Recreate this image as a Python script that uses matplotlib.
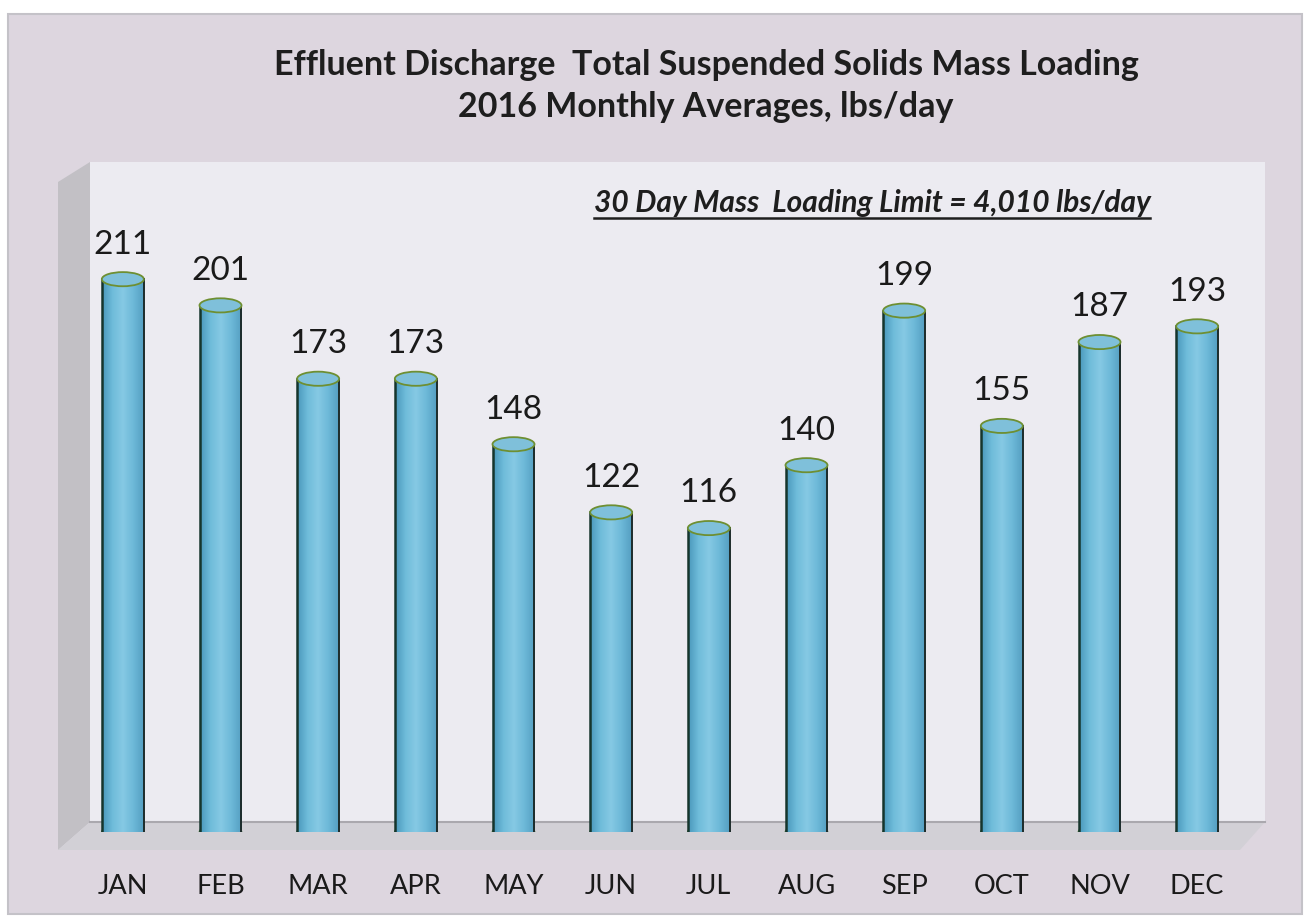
import numpy as np
import matplotlib.pyplot as plt
from matplotlib.patches import Ellipse, Polygon, Rectangle
from matplotlib.colors import LinearSegmentedColormap

# monthly averages, lbs/day
months = ['JAN', 'FEB', 'MAR', 'APR', 'MAY', 'JUN', 'JUL', 'AUG', 'SEP', 'OCT', 'NOV', 'DEC']
tss_lbs = [211, 201, 173, 173, 148, 122, 116, 140, 199, 155, 187, 193]

title = 'Effluent Discharge  Total Suspended Solids Mass Loading\n2016 Monthly Averages, lbs/day'
note = '30 Day Mass  Loading Limit = 4,010 lbs/day'

plt.rcParams['font.family'] = ['Lato', 'DejaVu Sans']

W, H = 1307, 921
fig = plt.figure(figsize=(W / 100, H / 100), dpi=100)
fig.patch.set_facecolor('white')

# background "3d box" drawn in pixel coords
bg = fig.add_axes([0, 0, 1, 1], zorder=0)
bg.set_xlim(0, W)
bg.set_ylim(H, 0)
bg.axis('off')
bg.add_patch(Rectangle((8, 14), 1294, 900, facecolor='#ddd6df', edgecolor='#c4c2c8', lw=1.5))
bg.add_patch(Polygon([(58, 182), (90, 162), (90, 822), (58, 850)], facecolor='#c2c0c5', edgecolor='none'))
bg.add_patch(Rectangle((90, 162), 1175, 660, facecolor='#ecebf1', edgecolor='none'))
bg.add_patch(Polygon([(90, 822), (1265, 822), (1240, 850), (58, 850)], facecolor='#d2d0d6', edgecolor='none'))
bg.plot([90, 1265], [822, 822], color='#aaa8ae', lw=1.5)

# main axes, zero at y=832 px, 2.62 px per lb/day
x0, x1 = 74, 1246
y_bot, y_top = 832, 832 - 250 * 2.62
ax = fig.add_axes([x0 / W, 1 - y_bot / H, (x1 - x0) / W, (y_bot - y_top) / H], zorder=1)
ax.set_xlim(-0.5, 11.5)
ax.set_ylim(0, 250)
ax.patch.set_alpha(0)
for s in ax.spines.values():
    s.set_visible(False)
ax.set_yticks([])
ax.set_xticks(range(len(months)))
ax.set_xticklabels(months, fontsize=19.5, color='#1a1a1a')
ax.tick_params(axis='x', length=0, pad=30)

cyl = LinearSegmentedColormap.from_list('cyl', ['#4a98bb', '#6fbcda', '#86c9e4', '#6db9d8', '#559fc2'])
grad = np.linspace(0, 1, 64).reshape(1, -1)
bw = 0.43
eh = 5.4  # ellipse height in data units

x = np.arange(len(months))
bars = ax.bar(x, tss_lbs, width=bw, color='none', edgecolor='none', zorder=2)
for xi, v, b in zip(x, tss_lbs, bars):
    im = ax.imshow(grad, cmap=cyl, aspect='auto', extent=[xi - bw / 2, xi + bw / 2, 0, v], zorder=2)
    im.set_clip_path(b)
    # bottom cap
    ax.add_patch(Ellipse((xi, 0), bw, eh, facecolor='#5eaacb', edgecolor='#4d7a3a', lw=1.2, zorder=1.9))
    ax.plot([xi - bw / 2, xi - bw / 2], [0, v], color='#16352c', lw=1.8, zorder=3)
    ax.plot([xi + bw / 2, xi + bw / 2], [0, v], color='#1d2b2a', lw=1.4, zorder=3)
    # top cap
    ax.add_patch(Ellipse((xi, v), bw, eh, facecolor='#7fc0da', edgecolor='#6e8f32', lw=1.3, zorder=4))
    ax.text(xi, v + 7.5, str(v), ha='center', va='bottom', fontsize=24, color='#1a1a1a', zorder=5)
ax.set_xlim(-0.5, 11.5)
ax.set_ylim(0, 250)

fig.text(706 / W, 1 - 86 / H, title, ha='center', va='center', fontsize=24.5,
         fontweight='bold', color='#1e1e1e', linespacing=1.4)

t = fig.text(872 / W, 1 - 203 / H, note, ha='center', va='center', fontsize=21.5,
             fontweight='bold', fontstyle='italic', color='#1e1e1e')
fig.canvas.draw()
bb = t.get_window_extent()
fig.add_artist(plt.Line2D([bb.x0 / W, bb.x1 / W], [(bb.y0 - 1) / H, (bb.y0 - 1) / H],
                          color='#1e1e1e', lw=1.8, transform=fig.transFigure))

fig.savefig('out.png', dpi=100)
